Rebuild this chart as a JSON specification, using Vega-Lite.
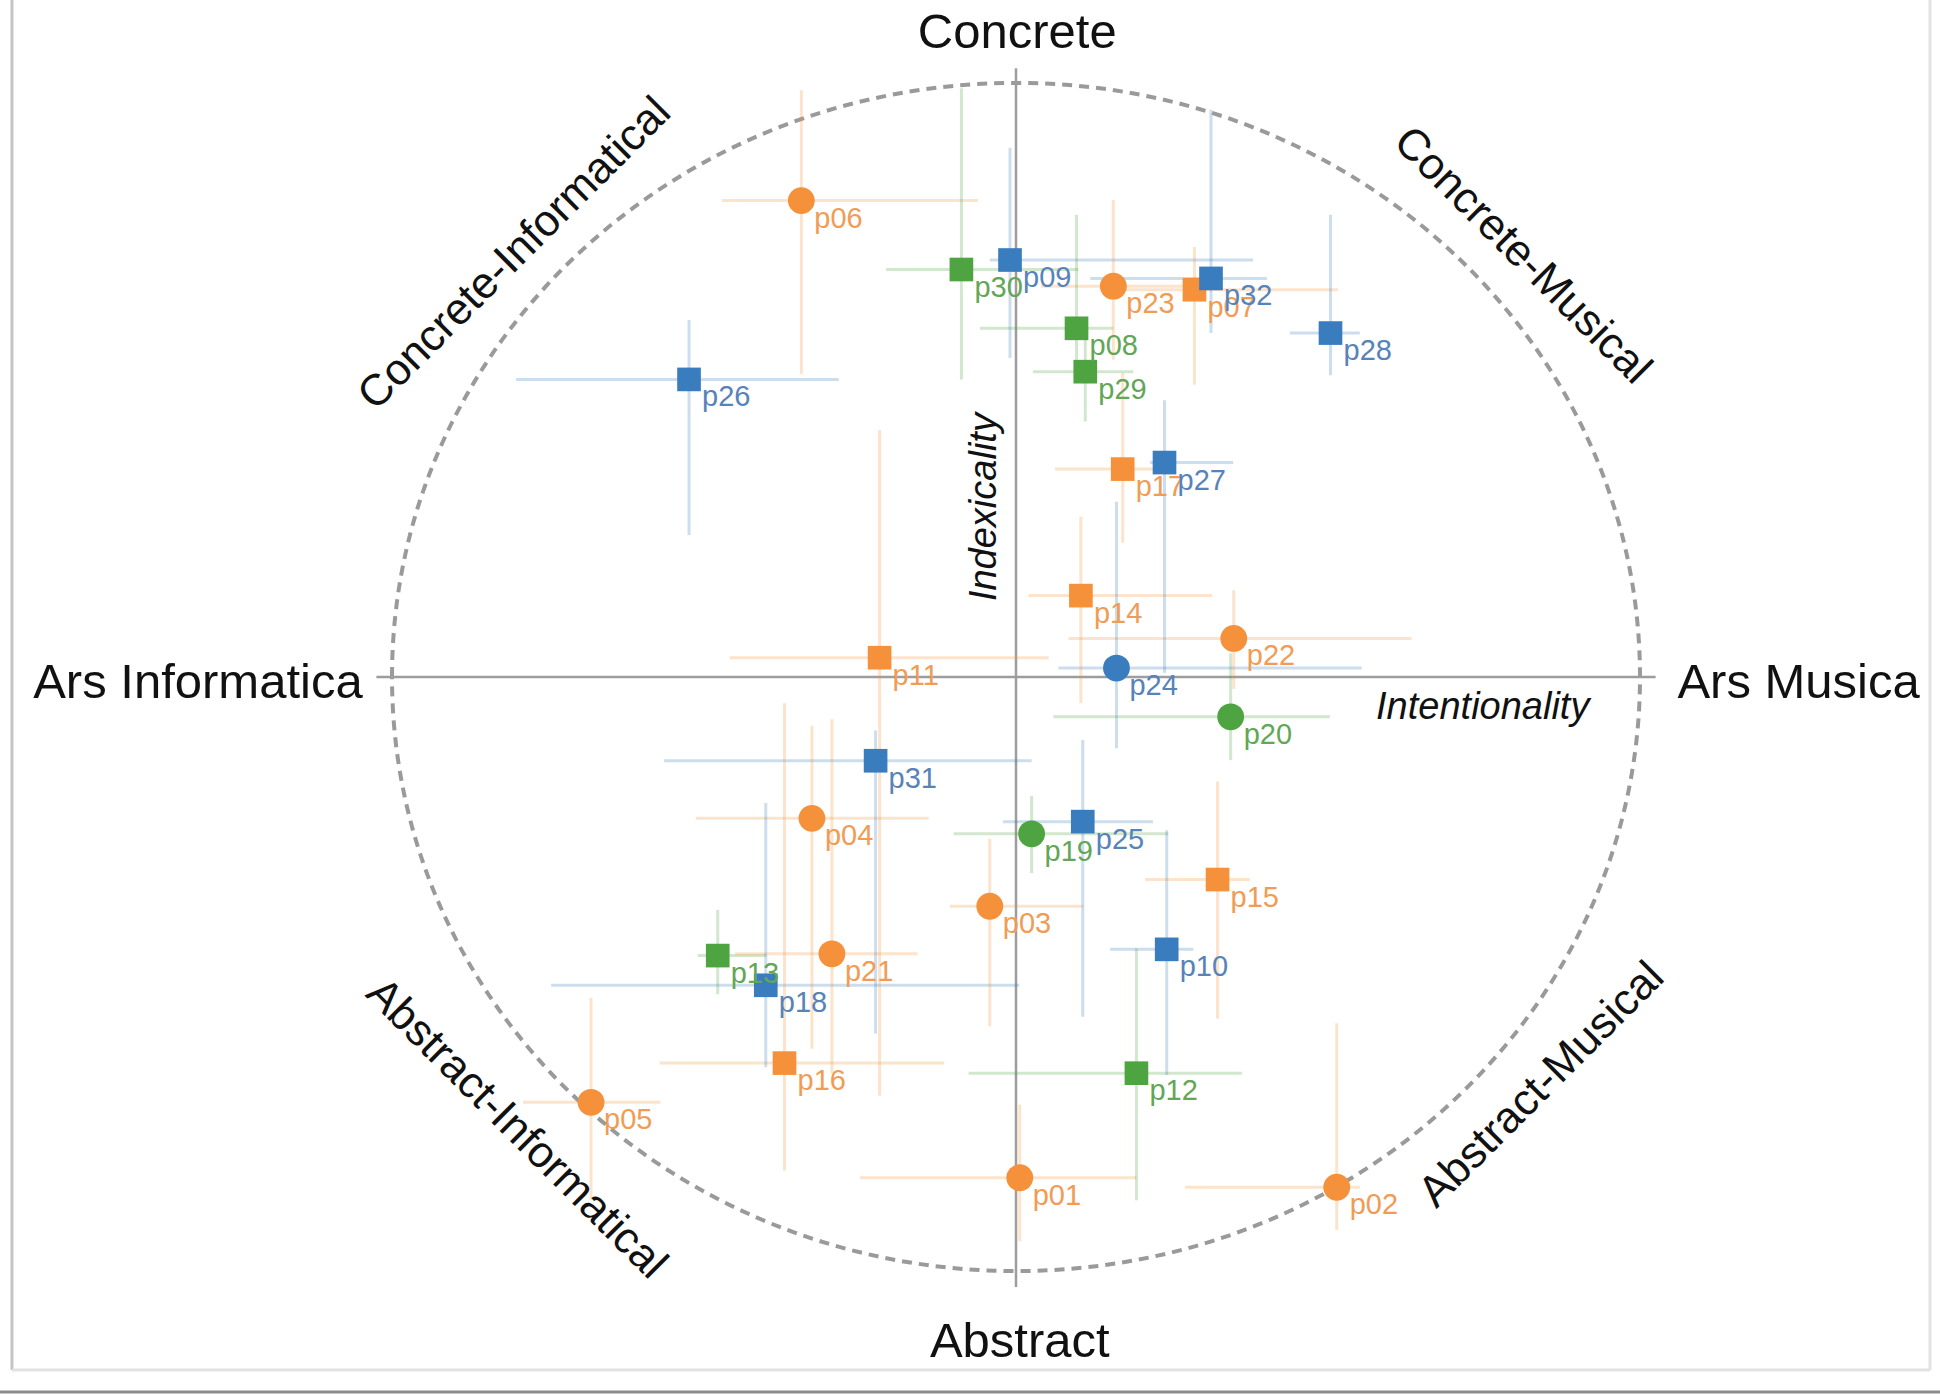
{
  "$schema": "https://vega.github.io/schema/vega-lite/v6.json",
  "width": 1940,
  "height": 1394,
  "autosize": {"type": "none"},
  "padding": 0,
  "background": "white",
  "config": {"view": {"stroke": null}, "font": "Liberation Sans"},
  "datasets": {
    "pieces": [
      {"id": "p01", "group": "o", "kind": "circle", "x": 0.006, "y": -0.843, "xlo": -0.25, "xhi": 0.193, "ylo": -0.95, "yhi": -0.72},
      {"id": "p02", "group": "o", "kind": "circle", "x": 0.514, "y": -0.859, "xlo": 0.271, "xhi": 0.551, "ylo": -0.931, "yhi": -0.583},
      {"id": "p03", "group": "o", "kind": "circle", "x": -0.042, "y": -0.386, "xlo": -0.106, "xhi": 0.108, "ylo": -0.588, "yhi": -0.272},
      {"id": "p04", "group": "o", "kind": "circle", "x": -0.327, "y": -0.238, "xlo": -0.513, "xhi": -0.14, "ylo": -0.626, "yhi": -0.082},
      {"id": "p05", "group": "o", "kind": "circle", "x": -0.681, "y": -0.716, "xlo": -0.79, "xhi": -0.57, "ylo": -0.88, "yhi": -0.54},
      {"id": "p06", "group": "o", "kind": "circle", "x": -0.344, "y": 0.802, "xlo": -0.471, "xhi": -0.061, "ylo": 0.51, "yhi": 0.988},
      {"id": "p07", "group": "o", "kind": "square", "x": 0.286, "y": 0.652, "xlo": 0.17, "xhi": 0.516, "ylo": 0.492, "yhi": 0.724},
      {"id": "p08", "group": "g", "kind": "square", "x": 0.097, "y": 0.587, "xlo": -0.058, "xhi": 0.156, "ylo": 0.534, "yhi": 0.778},
      {"id": "p09", "group": "b", "kind": "square", "x": -0.0096, "y": 0.702, "xlo": -0.042, "xhi": 0.38, "ylo": 0.537, "yhi": 0.891},
      {"id": "p10", "group": "b", "kind": "square", "x": 0.2415, "y": -0.4585, "xlo": 0.151, "xhi": 0.284, "ylo": -0.67, "yhi": -0.258},
      {"id": "p11", "group": "o", "kind": "square", "x": -0.2186, "y": 0.0325, "xlo": -0.459, "xhi": 0.0524, "ylo": -0.705, "yhi": 0.416},
      {"id": "p12", "group": "g", "kind": "square", "x": 0.193, "y": -0.667, "xlo": -0.076, "xhi": 0.362, "ylo": -0.881, "yhi": -0.457},
      {"id": "p13", "group": "g", "kind": "square", "x": -0.478, "y": -0.469, "xlo": -0.51, "xhi": -0.4, "ylo": -0.534, "yhi": -0.392},
      {"id": "p14", "group": "o", "kind": "square", "x": 0.104, "y": 0.137, "xlo": 0.02, "xhi": 0.314, "ylo": -0.044, "yhi": 0.27},
      {"id": "p15", "group": "o", "kind": "square", "x": 0.323, "y": -0.341, "xlo": 0.207, "xhi": 0.375, "ylo": -0.575, "yhi": -0.176},
      {"id": "p16", "group": "o", "kind": "square", "x": -0.371, "y": -0.65, "xlo": -0.571, "xhi": -0.115, "ylo": -0.831, "yhi": -0.044},
      {"id": "p17", "group": "o", "kind": "square", "x": 0.171, "y": 0.35, "xlo": 0.0625, "xhi": 0.247, "ylo": 0.226, "yhi": 0.512},
      {"id": "p18", "group": "b", "kind": "square", "x": -0.401, "y": -0.519, "xlo": -0.745, "xhi": 0.005, "ylo": -0.657, "yhi": -0.212},
      {"id": "p19", "group": "g", "kind": "circle", "x": 0.025, "y": -0.264, "xlo": -0.1, "xhi": 0.244, "ylo": -0.33, "yhi": -0.2},
      {"id": "p20", "group": "g", "kind": "circle", "x": 0.344, "y": -0.067, "xlo": 0.06, "xhi": 0.503, "ylo": -0.14, "yhi": 0.04},
      {"id": "p21", "group": "o", "kind": "circle", "x": -0.295, "y": -0.466, "xlo": -0.45, "xhi": -0.158, "ylo": -0.668, "yhi": -0.071},
      {"id": "p22", "group": "o", "kind": "circle", "x": 0.349, "y": 0.065, "xlo": 0.084, "xhi": 0.634, "ylo": -0.02, "yhi": 0.146},
      {"id": "p23", "group": "o", "kind": "circle", "x": 0.156, "y": 0.658, "xlo": 0.04, "xhi": 0.3, "ylo": 0.534, "yhi": 0.803},
      {"id": "p24", "group": "b", "kind": "circle", "x": 0.161, "y": 0.015, "xlo": 0.068, "xhi": 0.554, "ylo": -0.12, "yhi": 0.295},
      {"id": "p25", "group": "b", "kind": "square", "x": 0.107, "y": -0.2435, "xlo": -0.021, "xhi": 0.2195, "ylo": -0.572, "yhi": -0.106},
      {"id": "p26", "group": "b", "kind": "square", "x": -0.524, "y": 0.501, "xlo": -0.801, "xhi": -0.284, "ylo": 0.239, "yhi": 0.601},
      {"id": "p27", "group": "b", "kind": "square", "x": 0.238, "y": 0.361, "xlo": 0.215, "xhi": 0.348, "ylo": 0.007, "yhi": 0.466},
      {"id": "p28", "group": "b", "kind": "square", "x": 0.504, "y": 0.579, "xlo": 0.439, "xhi": 0.551, "ylo": 0.508, "yhi": 0.778},
      {"id": "p29", "group": "g", "kind": "square", "x": 0.111, "y": 0.514, "xlo": 0.027, "xhi": 0.188, "ylo": 0.43, "yhi": 0.589},
      {"id": "p30", "group": "g", "kind": "square", "x": -0.0875, "y": 0.686, "xlo": -0.208, "xhi": 0.1, "ylo": 0.501, "yhi": 0.991},
      {"id": "p31", "group": "b", "kind": "square", "x": -0.225, "y": -0.141, "xlo": -0.564, "xhi": 0.025, "ylo": -0.6, "yhi": -0.09},
      {"id": "p32", "group": "b", "kind": "square", "x": 0.3125, "y": 0.671, "xlo": 0.119, "xhi": 0.402, "ylo": 0.579, "yhi": 0.955}
    ],
    "cross": [
      {"x": -1.025, "x2": 1.025, "y": 0, "y2": 0},
      {"x": 0, "x2": 0, "y": 1.025, "y2": -1.027}
    ],
    "edge": [
      {"x": -1.609, "x2": -1.609, "y": 1.14, "y2": -1.1667, "tone": "side"},
      {"x": 1.4647, "x2": 1.4647, "y": 1.14, "y2": -1.1667, "tone": "light"},
      {"x": -1.609, "x2": 1.4647, "y": -1.1667, "y2": -1.1667, "tone": "light"},
      {"x": -1.63, "x2": 1.49, "y": -1.2037, "y2": -1.2037, "tone": "shadow"}
    ]
  },
  "layer": [
    {
      "data": {"name": "edge"},
      "mark": {"type": "rule", "strokeWidth": 3},
      "encoding": {
        "x": {"field": "x", "type": "quantitative", "scale": {"domain": [-1.62821, 1.48077], "nice": false, "zero": false}, "axis": null},
        "x2": {"field": "x2"},
        "y": {"field": "y", "type": "quantitative", "scale": {"domain": [-1.20707, 1.13973], "nice": false, "zero": false}, "axis": null},
        "y2": {"field": "y2"},
        "stroke": {"field": "tone", "type": "nominal", "scale": {"domain": ["side", "light", "shadow"], "range": ["#c4c4c4", "#e2e2e2", "#8c8c8c"]}, "legend": null}
      }
    },
    {
      "data": {"values": [{"x": 0, "y": 0}]},
      "mark": {
        "type": "point",
        "shape": "M -1 0 A 1 0.952 0 1 1 1 0 A 1 0.952 0 1 1 -1 0 Z",
        "size": 1557504,
        "filled": false,
        "stroke": "#9a9a9a",
        "strokeWidth": 4,
        "strokeDash": [10, 7],
        "opacity": 1
      },
      "encoding": {
        "x": {"field": "x", "type": "quantitative", "scale": {"domain": [-1.62821, 1.48077], "nice": false, "zero": false}, "axis": null},
        "y": {"field": "y", "type": "quantitative", "scale": {"domain": [-1.20707, 1.13973], "nice": false, "zero": false}, "axis": null}
      }
    },
    {
      "data": {"name": "cross"},
      "mark": {"type": "rule", "stroke": "#9d9d9d", "strokeWidth": 2.5},
      "encoding": {
        "x": {"field": "x", "type": "quantitative", "scale": {"domain": [-1.62821, 1.48077], "nice": false, "zero": false}, "axis": null},
        "x2": {"field": "x2"},
        "y": {"field": "y", "type": "quantitative", "scale": {"domain": [-1.20707, 1.13973], "nice": false, "zero": false}, "axis": null},
        "y2": {"field": "y2"}
      }
    },
    {
      "data": {"name": "pieces"},
      "mark": {"type": "rule", "strokeWidth": 3, "opacity": 0.26},
      "encoding": {
        "x": {"field": "xlo", "type": "quantitative", "scale": {"domain": [-1.62821, 1.48077], "nice": false, "zero": false}, "axis": null},
        "x2": {"field": "xhi"},
        "y": {"field": "y", "type": "quantitative", "scale": {"domain": [-1.20707, 1.13973], "nice": false, "zero": false}, "axis": null},
        "color": {"field": "group", "type": "nominal", "scale": {"domain": ["o", "b", "g"], "range": ["#F5913A", "#3A7DBF", "#4EA441"]}, "legend": null}
      }
    },
    {
      "data": {"name": "pieces"},
      "mark": {"type": "rule", "strokeWidth": 3, "opacity": 0.26},
      "encoding": {
        "x": {"field": "x", "type": "quantitative", "scale": {"domain": [-1.62821, 1.48077], "nice": false, "zero": false}, "axis": null},
        "y": {"field": "ylo", "type": "quantitative", "scale": {"domain": [-1.20707, 1.13973], "nice": false, "zero": false}, "axis": null},
        "y2": {"field": "yhi"},
        "color": {"field": "group", "type": "nominal", "scale": {"domain": ["o", "b", "g"], "range": ["#F5913A", "#3A7DBF", "#4EA441"]}, "legend": null}
      }
    },
    {
      "data": {"name": "pieces"},
      "mark": {"type": "point", "filled": true, "opacity": 1, "strokeWidth": 0},
      "encoding": {
        "x": {"field": "x", "type": "quantitative", "scale": {"domain": [-1.62821, 1.48077], "nice": false, "zero": false}, "axis": null},
        "y": {"field": "y", "type": "quantitative", "scale": {"domain": [-1.20707, 1.13973], "nice": false, "zero": false}, "axis": null},
        "color": {"field": "group", "type": "nominal", "scale": {"domain": ["o", "b", "g"], "range": ["#F5913A", "#3A7DBF", "#4EA441"]}, "legend": null},
        "shape": {"field": "kind", "type": "nominal", "scale": {"domain": ["circle", "square"], "range": ["circle", "square"]}, "legend": null},
        "size": {"field": "kind", "type": "ordinal", "scale": {"domain": ["circle", "square"], "range": [720, 560]}, "legend": null}
      }
    },
    {
      "data": {"name": "pieces"},
      "mark": {"type": "text", "align": "left", "baseline": "alphabetic", "dx": 13, "dy": 27, "fontSize": 29},
      "encoding": {
        "x": {"field": "x", "type": "quantitative", "scale": {"domain": [-1.62821, 1.48077], "nice": false, "zero": false}, "axis": null},
        "y": {"field": "y", "type": "quantitative", "scale": {"domain": [-1.20707, 1.13973], "nice": false, "zero": false}, "axis": null},
        "text": {"field": "id"},
        "fill": {"field": "group", "type": "nominal", "scale": {"domain": ["o", "b", "g"], "range": ["#F09C55", "#5783B8", "#62A656"]}, "legend": null}
      }
    },
    {
      "data": {"values": [{"t": "Concrete", "x": 0.002, "y": 1.084}, {"t": "Abstract", "x": 0.006, "y": -1.12}]},
      "mark": {"type": "text", "align": "center", "baseline": "middle", "fontSize": 49, "fill": "#111"},
      "encoding": {
        "x": {"field": "x", "type": "quantitative", "scale": {"domain": [-1.62821, 1.48077], "nice": false, "zero": false}, "axis": null},
        "y": {"field": "y", "type": "quantitative", "scale": {"domain": [-1.20707, 1.13973], "nice": false, "zero": false}, "axis": null},
        "text": {"field": "t"}
      }
    },
    {
      "data": {"values": [{"t": "Ars Informatica", "x": -1.047, "y": -0.01}]},
      "mark": {"type": "text", "align": "right", "baseline": "middle", "fontSize": 49, "fill": "#111"},
      "encoding": {
        "x": {"field": "x", "type": "quantitative", "scale": {"domain": [-1.62821, 1.48077], "nice": false, "zero": false}, "axis": null},
        "y": {"field": "y", "type": "quantitative", "scale": {"domain": [-1.20707, 1.13973], "nice": false, "zero": false}, "axis": null},
        "text": {"field": "t"}
      }
    },
    {
      "data": {"values": [{"t": "Ars Musica", "x": 1.06, "y": -0.01}]},
      "mark": {"type": "text", "align": "left", "baseline": "middle", "fontSize": 49, "fill": "#111"},
      "encoding": {
        "x": {"field": "x", "type": "quantitative", "scale": {"domain": [-1.62821, 1.48077], "nice": false, "zero": false}, "axis": null},
        "y": {"field": "y", "type": "quantitative", "scale": {"domain": [-1.20707, 1.13973], "nice": false, "zero": false}, "axis": null},
        "text": {"field": "t"}
      }
    },
    {
      "data": {"values": [{"t": "Concrete-Informatical", "x": -0.803, "y": 0.712}, {"t": "Abstract-Musical", "x": 0.843, "y": -0.687}]},
      "mark": {"type": "text", "align": "center", "baseline": "middle", "fontSize": 44, "angle": 315, "fill": "#111"},
      "encoding": {
        "x": {"field": "x", "type": "quantitative", "scale": {"domain": [-1.62821, 1.48077], "nice": false, "zero": false}, "axis": null},
        "y": {"field": "y", "type": "quantitative", "scale": {"domain": [-1.20707, 1.13973], "nice": false, "zero": false}, "axis": null},
        "text": {"field": "t"}
      }
    },
    {
      "data": {"values": [{"t": "Concrete-Musical", "x": 0.811, "y": 0.709}, {"t": "Abstract-Informatical", "x": -0.801, "y": -0.761}]},
      "mark": {"type": "text", "align": "center", "baseline": "middle", "fontSize": 44, "angle": 45, "fill": "#111"},
      "encoding": {
        "x": {"field": "x", "type": "quantitative", "scale": {"domain": [-1.62821, 1.48077], "nice": false, "zero": false}, "axis": null},
        "y": {"field": "y", "type": "quantitative", "scale": {"domain": [-1.20707, 1.13973], "nice": false, "zero": false}, "axis": null},
        "text": {"field": "t"}
      }
    },
    {
      "data": {"values": [{"t": "Indexicality", "x": -0.05, "y": 0.286}]},
      "mark": {"type": "text", "align": "center", "baseline": "middle", "fontSize": 38, "fontStyle": "italic", "angle": 270, "fill": "#111"},
      "encoding": {
        "x": {"field": "x", "type": "quantitative", "scale": {"domain": [-1.62821, 1.48077], "nice": false, "zero": false}, "axis": null},
        "y": {"field": "y", "type": "quantitative", "scale": {"domain": [-1.20707, 1.13973], "nice": false, "zero": false}, "axis": null},
        "text": {"field": "t"}
      }
    },
    {
      "data": {"values": [{"t": "Intentionality", "x": 0.748, "y": -0.052}]},
      "mark": {"type": "text", "align": "center", "baseline": "middle", "fontSize": 38, "fontStyle": "italic", "fill": "#111"},
      "encoding": {
        "x": {"field": "x", "type": "quantitative", "scale": {"domain": [-1.62821, 1.48077], "nice": false, "zero": false}, "axis": null},
        "y": {"field": "y", "type": "quantitative", "scale": {"domain": [-1.20707, 1.13973], "nice": false, "zero": false}, "axis": null},
        "text": {"field": "t"}
      }
    }
  ]
}
